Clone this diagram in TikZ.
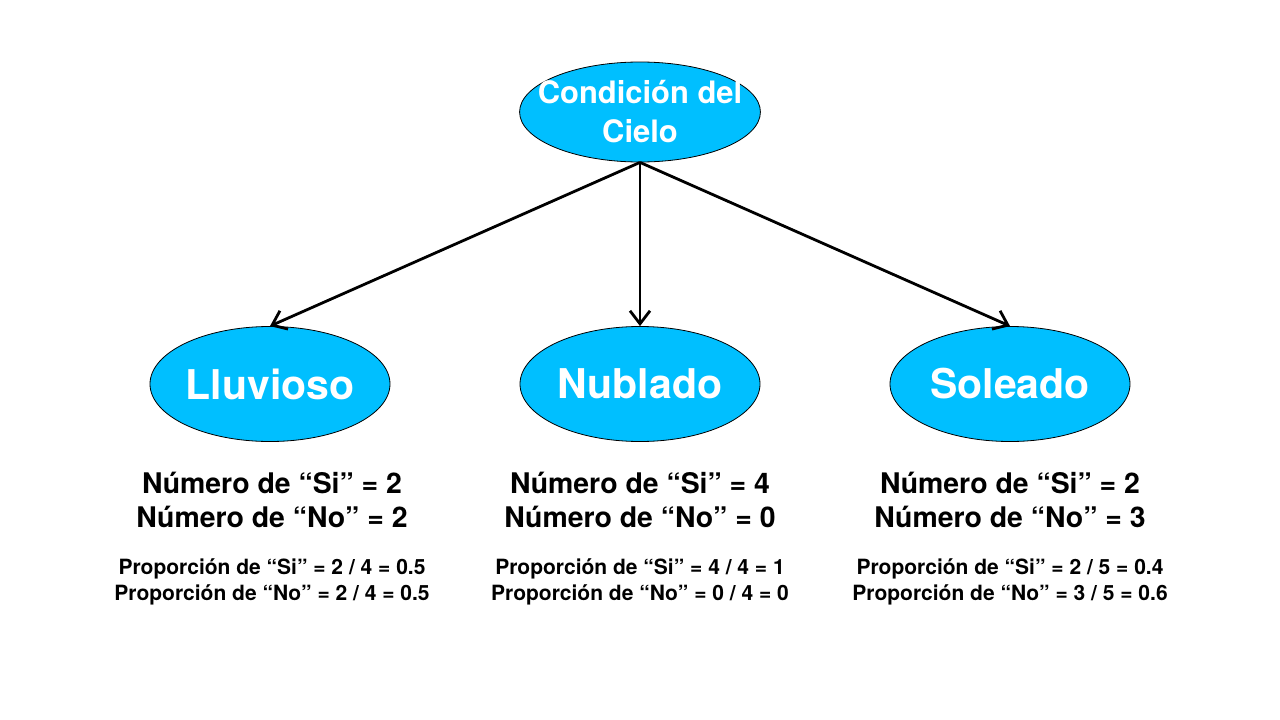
\documentclass[tikz,border=0pt]{standalone}
\usepackage{fontspec}
\setmainfont{TeX Gyre Heros}
\usepackage{tikz}
\usetikzlibrary{shapes.geometric, arrows.meta, positioning}
\definecolor{cielo}{HTML}{00BFFF}

\begin{document}
\begin{tikzpicture}[x=1pt, y=-1pt,
    hoja/.style={ellipse, draw=black, line width=0.8pt, fill=cielo, text=white,
        minimum width=240pt, minimum height=115pt, inner sep=0pt,
        font=\fontsize{41}{49}\selectfont\bfseries},
    rama/.style={line width=2.8pt, -{Straight Barb[length=13pt, width=20pt, line width=2.8pt]}},
    cuenta/.style={align=center, font=\fontsize{28.4}{34}\selectfont\bfseries},
    prop/.style={align=center, font=\fontsize{21}{26}\selectfont\bfseries}]
    \useasboundingbox (0,0) rectangle (1280,720);
    \node[hoja, minimum height=100pt, inner xsep=-17pt, font=\fontsize{30.9}{39}\selectfont\bfseries, align=center]
        (raiz) at (640,112) {Condición del\\Cielo};
    \node[hoja] (lluv) at (270,384) {Lluvioso};
    \node[hoja] (nubl) at (640,384) {Nublado};
    \node[hoja] (sole) at (1010,384) {Soleado};
    \draw[rama] (raiz.south) -- (lluv.north);
    \draw[rama] (raiz.south) -- (nubl.north);
    \draw[rama] (raiz.south) -- (sole.north);
    % conteos
    \node[cuenta] (cL) at (272,500) {Número de “Si” = 2\\Número de “No” = 2};
    \node[cuenta] (cN) at (640,500) {Número de “Si” = 4\\Número de “No” = 0};
    \node[cuenta] (cS) at (1010,500) {Número de “Si” = 2\\Número de “No” = 3};
    % proporciones
    \node[prop] (pL) at (272,582) {Proporción de “Si” = 2 / 4 = 0.5\\Proporción de “No” = 2 / 4 = 0.5};
    \node[prop] (pN) at (640,582) {Proporción de “Si” = 4 / 4 = 1\\Proporción de “No” = 0 / 4 = 0};
    \node[prop] (pS) at (1010,582) {Proporción de “Si” = 2 / 5 = 0.4\\Proporción de “No” = 3 / 5 = 0.6};
\end{tikzpicture}
\end{document}
